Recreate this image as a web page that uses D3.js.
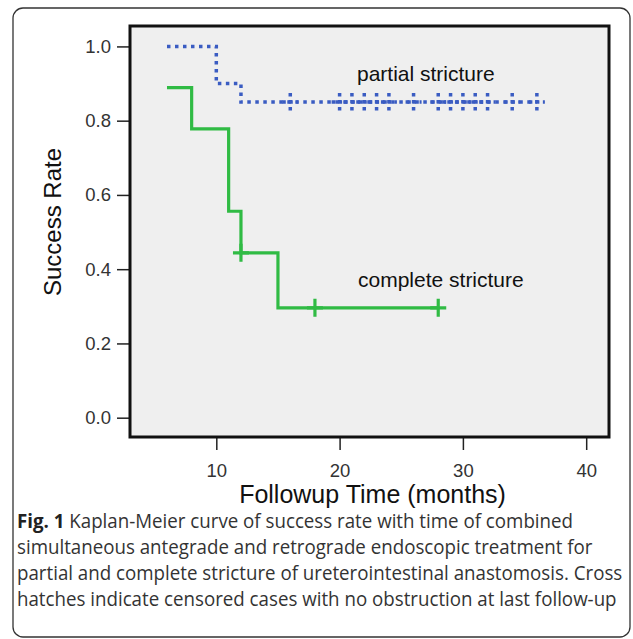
<!DOCTYPE html>
<html>
<head>
<meta charset="utf-8">
<script src="https://cdn.jsdelivr.net/npm/d3@7"></script>
<style>
  body { margin: 0; background: #fff; }
  svg { display: block; }
</style>
</head>
<body>
<div id="chart"></div>
<script>
// Kaplan-Meier steps
var partialTimes = [6, 10, 12],
    partialSurvival = [1.0, 0.9, 0.85],
    partialEnd = 36,
    partialCensored = [16, 20, 21, 22, 23, 24, 26, 28, 29, 30, 31, 32, 34, 36];

var completeTimes = [6, 8, 11, 12, 15],
    completeSurvival = [0.889, 0.778, 0.556, 0.444, 0.296],
    completeEnd = 28,
    completeCensored = [12, 18, 28];

var yTicks = [0, 0.2, 0.4, 0.6, 0.8, 1.0],
    xTicks = [10, 20, 30, 40];

var captionLines = [
  "Kaplan-Meier curve of success rate with time of combined",
  "simultaneous antegrade and retrograde endoscopic treatment for",
  "partial and complete stricture of ureterointestinal anastomosis. Cross",
  "hatches indicate censored cases with no obstruction at last follow-up"
];

var W = 633, H = 639;
var box = {left: 130, right: 609, top: 26, bottom: 437};

var svg = d3.select('#chart')
  .append('svg')
    .attr('width', W)
    .attr('height', H);

// outer rounded frame
svg.append('rect')
  .attr('x', 13).attr('y', 8)
  .attr('width', 617).attr('height', 629)
  .attr('rx', 10)
  .attr('fill', 'none')
  .attr('stroke', '#333')
  .attr('stroke-width', 1.3);

var x = d3.scaleLinear().domain([3, 41.85]).range([box.left, box.right]);
var y = d3.scaleLinear().domain([-0.052, 1.055]).range([box.bottom, box.top]);

svg.append('rect')
  .attr('x', box.left).attr('y', box.top)
  .attr('width', box.right - box.left).attr('height', box.bottom - box.top)
  .attr('fill', '#efefef');

// axes
var yAxis = svg.append('g')
  .attr('transform', 'translate(' + box.left + ',0)')
  .call(d3.axisLeft(y).tickValues(yTicks).tickFormat(d3.format('.1f')).tickSize(13).tickPadding(6));

var xAxis = svg.append('g')
  .attr('transform', 'translate(0,' + box.bottom + ')')
  .call(d3.axisBottom(x).tickValues(xTicks).tickSize(13).tickPadding(14));

[yAxis, xAxis].forEach(function(g) {
  g.select('.domain').remove();
  g.selectAll('line').attr('stroke', '#222').attr('stroke-width', 1.5);
  g.selectAll('text')
    .attr('fill', '#333')
    .style('font-family', 'Liberation Sans, Arial, sans-serif')
    .style('font-size', '18.5px');
});

// box border
svg.append('rect')
  .attr('x', box.left).attr('y', box.top)
  .attr('width', box.right - box.left).attr('height', box.bottom - box.top)
  .attr('fill', 'none')
  .attr('stroke', '#111')
  .attr('stroke-width', 3);

var stepLine = d3.line()
  .x(d => x(d[0]))
  .y(d => y(d[1]))
  .curve(d3.curveStepAfter);

function kmPoints(times, surv, end) {
  var pts = times.map((t, i) => [t, surv[i]]);
  pts.push([end, surv[surv.length - 1]]);
  return pts;
}

function survivalAt(times, surv, t) {
  var s = surv[0];
  times.forEach((tt, i) => { if (tt <= t) s = surv[i]; });
  return s;
}

function crossPath(t, s) {
  var cx = x(t), cy = y(s);
  return 'M' + (cx - 8) + ',' + cy + 'H' + (cx + 8) + 'M' + cx + ',' + (cy - 9) + 'V' + (cy + 9);
}

var blue = '#3a5cc2', green = '#30bb44';

// partial stricture: dotted
svg.append('path')
  .datum(kmPoints(partialTimes, partialSurvival, partialEnd))
  .attr('d', stepLine)
  .attr('fill', 'none')
  .attr('stroke', blue)
  .attr('stroke-width', 3.5)
  .attr('stroke-dasharray', '3.5,4.5');

svg.selectAll('.pcens')
  .data(partialCensored)
  .enter().append('path')
    .attr('class', 'pcens')
    .attr('d', t => crossPath(t, survivalAt(partialTimes, partialSurvival, t)))
    .attr('fill', 'none')
    .attr('stroke', blue)
    .attr('stroke-width', 3.5)
    .attr('stroke-dasharray', '3.5,3.5');

// complete stricture: solid
svg.append('path')
  .datum(kmPoints(completeTimes, completeSurvival, completeEnd))
  .attr('d', stepLine)
  .attr('fill', 'none')
  .attr('stroke', green)
  .attr('stroke-width', 3.2);

svg.selectAll('.ccens')
  .data(completeCensored)
  .enter().append('path')
    .attr('class', 'ccens')
    .attr('d', t => crossPath(t, survivalAt(completeTimes, completeSurvival, t)))
    .attr('fill', 'none')
    .attr('stroke', green)
    .attr('stroke-width', 3.2);

// series labels
var labelFont = 'Liberation Sans, Arial, sans-serif';
svg.append('text')
  .attr('x', 357).attr('y', 81)
  .style('font-family', labelFont).style('font-size', '21px')
  .attr('fill', '#111')
  .text('partial stricture');
svg.append('text')
  .attr('x', 358).attr('y', 287)
  .style('font-family', labelFont).style('font-size', '21px')
  .attr('fill', '#111')
  .text('complete stricture');

// axis titles
svg.append('text')
  .attr('x', (box.left + box.right) / 2 + 3).attr('y', 503)
  .attr('text-anchor', 'middle')
  .style('font-family', labelFont).style('font-size', '25px')
  .attr('fill', '#111')
  .text('Followup Time (months)');
svg.append('text')
  .attr('transform', 'translate(61,222) rotate(-90)')
  .attr('text-anchor', 'middle')
  .style('font-family', labelFont).style('font-size', '24px')
  .attr('fill', '#111')
  .text('Success Rate');

// caption, condensed a little to match the narrow caption face
var cap = svg.append('g')
  .style('font-family', 'Open Sans, sans-serif')
  .style('font-size', '20px')
  .attr('fill', '#333');

captionLines.forEach(function(line, i) {
  var t = cap.append('text')
    .attr('x', 0)
    .attr('y', 528 + i * 26);
  if (i === 0) {
    t.append('tspan').style('font-weight', 'bold').attr('fill', '#222').text('Fig. 1');
    t.append('tspan').text(' ' + line);
  } else {
    t.text(line);
  }
});

var last = cap.selectAll('text').nodes()[3];
var sx = 600 / last.getComputedTextLength();
cap.attr('transform', 'translate(17,0) scale(' + sx + ',1)');
</script>
</body>
</html>
